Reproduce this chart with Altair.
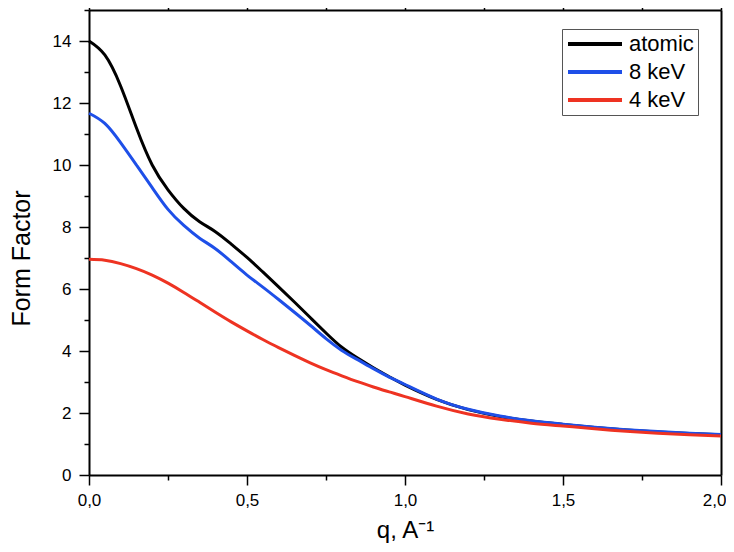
import altair as alt
import pandas as pd

q = [0.0, 0.05, 0.1, 0.15, 0.2, 0.25, 0.3, 0.35, 0.4, 0.45, 0.5, 0.55, 0.6, 0.65,
     0.7, 0.75, 0.8, 0.85, 0.9, 0.95, 1.0, 1.1, 1.2, 1.3, 1.4, 1.5, 1.6, 1.7, 1.8,
     1.9, 2.0]
atomic = [14.0, 13.55, 12.55, 11.2, 10.0, 9.2, 8.6, 8.17, 7.85, 7.45, 7.02, 6.55,
          6.07, 5.58, 5.08, 4.58, 4.12, 3.77, 3.46, 3.17, 2.9, 2.44, 2.11, 1.89,
          1.74, 1.63, 1.53, 1.45, 1.39, 1.34, 1.30]
kev8 = [11.67, 11.34, 10.72, 10.0, 9.27, 8.57, 8.05, 7.64, 7.3, 6.88, 6.45,
        6.06, 5.66, 5.25, 4.83, 4.4, 4.02, 3.72, 3.43, 3.16, 2.92, 2.45, 2.12,
        1.9, 1.75, 1.64, 1.54, 1.46, 1.40, 1.35, 1.31]
kev4 = [6.96, 6.93, 6.82, 6.66, 6.45, 6.19, 5.89, 5.57, 5.25, 4.94, 4.65, 4.37,
        4.11, 3.86, 3.62, 3.4, 3.2, 3.01, 2.84, 2.68, 2.53, 2.22, 1.97, 1.8, 1.67,
        1.58, 1.49, 1.41, 1.35, 1.3, 1.26]

series_names = ["atomic", "8 keV", "4 keV"]
series_colors = ["#000000", "#1e4fe8", "#ee3322"]

x_ticks = [0.0, 0.25, 0.5, 0.75, 1.0, 1.25, 1.5, 1.75, 2.0]
y_ticks = list(range(16))

rows = []
for name, vals in zip(series_names, [atomic, kev8, kev4]):
    for qq, v in zip(q, vals):
        rows.append({"q": qq, "F": v, "series": name})
df = pd.DataFrame(rows)

FONT = "Liberation Sans"
xscale = alt.Scale(domain=[0, 2], nice=False, zero=False)
yscale = alt.Scale(domain=[0, 15], nice=False, zero=False)

x_tick_size = {"condition": {"test": "datum.value % 0.5 === 0", "value": 10}, "value": 5}
y_tick_size = {"condition": {"test": "datum.value % 2 === 0", "value": 10}, "value": 5}
x_label_align = {"condition": {"test": "datum.value === 2", "value": "right"}, "value": "center"}
x_label_offset = {"condition": {"test": "datum.value === 2", "value": 5}, "value": 0}

common = dict(domainWidth=2, domainColor="black", tickColor="black", tickWidth=1.5,
              grid=False, labelFont=FONT, labelFontSize=17, labelColor="black",
              titleFont=FONT, titleFontWeight="normal", titleColor="black",
              labelOverlap=False, labelFlush=False)

x_bottom = alt.Axis(values=x_ticks, tickSize=x_tick_size,
                    labelExpr="datum.value % 0.5 === 0 ? replace(format(datum.value, '.1f'), '.', ',') : ''",
                    labelAlign=x_label_align, labelOffset=x_label_offset,
                    labelPadding=7, title="q, A⁻¹", titleFontSize=24,
                    titleBaseline="alphabetic", titleY=62, **common)
y_left = alt.Axis(values=y_ticks, tickSize=y_tick_size,
                  labelExpr="datum.value % 2 === 0 ? datum.label : ''",
                  labelPadding=8, title="Form Factor", titleFontSize=25,
                  titleX=-68, titleY=248, titleBaseline="middle", **common)
x_top = alt.Axis(orient="top", values=x_ticks, tickSize=x_tick_size, labels=False,
                 title=None, **common)
y_right = alt.Axis(orient="right", ticks=False, labels=False, title=None, **common)

lines = alt.Chart(df).mark_line(strokeWidth=3, interpolate="natural").encode(
    x=alt.X("q:Q", scale=xscale, axis=x_bottom),
    y=alt.Y("F:Q", scale=yscale, axis=y_left),
    color=alt.Color("series:N", scale=alt.Scale(domain=series_names, range=series_colors),
                    sort=series_names, title=None,
                    legend=alt.Legend(orient="none", legendX=473, legendY=19,
                                      symbolType="stroke", symbolSize=2916,
                                      symbolStrokeWidth=4, labelFont=FONT,
                                      labelFontSize=22, labelColor="black",
                                      labelOffset=5, padding=4, clipHeight=22,
                                      rowPadding=6, strokeColor="#555555",
                                      fillColor="white")),
)

frame = alt.Chart(df).mark_point(opacity=0).encode(
    x=alt.X("q:Q", scale=xscale, axis=x_top),
    y=alt.Y("F:Q", scale=yscale, axis=y_right),
)

chart = alt.layer(lines, frame).resolve_axis(x="independent", y="independent").properties(
    width=632, height=465,
    padding={"left": 81, "top": 2, "right": 5, "bottom": 69},
    autosize=alt.AutoSizeParams(type="none"),
).configure_view(stroke="transparent").configure(font=FONT)

chart.save("out.html", embed_options={"renderer": "svg", "actions": False})
